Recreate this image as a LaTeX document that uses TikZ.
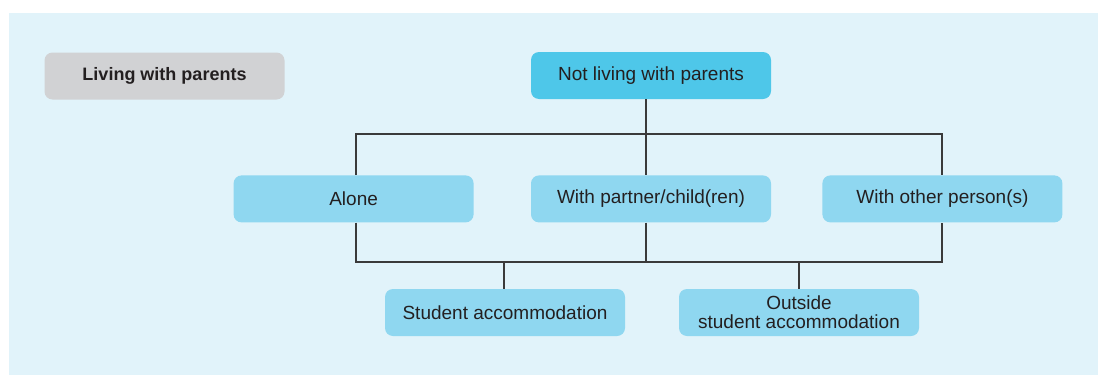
\documentclass[tikz,border=0pt]{standalone}
\usepackage{fontspec}
\setmainfont{Liberation Sans}
\usepackage{tikz}
\usetikzlibrary{positioning}
\definecolor{panel}{HTML}{E1F3FA}
\definecolor{greybox}{HTML}{D1D2D4}
\definecolor{deep}{HTML}{4EC7E9}
\definecolor{pale}{HTML}{8FD7F0}
\definecolor{ink}{HTML}{231F20}
\definecolor{wire}{HTML}{3A3A3A}
\tikzset{
  box/.style={rectangle, rounded corners=8pt, draw=none, align=center,
              minimum width=240pt, minimum height=47pt, inner sep=0pt,
              text=ink, font=\fontsize{19}{19}\selectfont},
  home/.style={box, fill=greybox, font=\fontsize{18}{19}\selectfont\bfseries},
  away/.style={box, fill=deep},
  kind/.style={box, fill=pale},
  ln/.style={draw=wire, line width=1.4pt}
}

\begin{document}
\begin{tikzpicture}[x=1pt, y=-1pt]
  \useasboundingbox (0,0) rectangle (1098,375);
  \fill[panel] (9,13) rectangle (1098,375);
  \node[home] (lwp) at (164.5,76) {Living with parents};
  \node[away] (nlp) at (651,75.5) {Not living with parents};
  \node[kind, below=76pt of nlp] (part) {With partner/child(ren)};
  \node[kind, left=57pt of part] (alone) {Alone};
  \node[kind, right=51pt of part] (other) {With other person(s)};
  \node[kind] (stud) at (505,312.5) {Student accommodation};
  \node[kind] (outs) at (799,312.5) {Outside\\student accommodation};
  % upper tree
  \coordinate (up) at (646,134);
  \coordinate (upl) at (356,134);
  \coordinate (upr) at (942,134);
  \draw[ln] (nlp.south -| up) -- (up);
  \draw[ln] (alone.north -| upl) -- (upl) -- (upr) -- (other.north -| upr);
  \draw[ln] (up) -- (part.north -| up);
  % lower tree
  \coordinate (lo) at (646,262);
  \coordinate (lol) at (356,262);
  \coordinate (lor) at (942,262);
  \draw[ln] (alone.south -| lol) -- (lol) -- (lor) -- (other.south -| lor);
  \draw[ln] (part.south -| lo) -- (lo);
  \draw[ln] (stud.north -| 504,0) -- (504,262);
  \draw[ln] (outs.north -| 799,0) -- (799,262);
\end{tikzpicture}
\end{document}
